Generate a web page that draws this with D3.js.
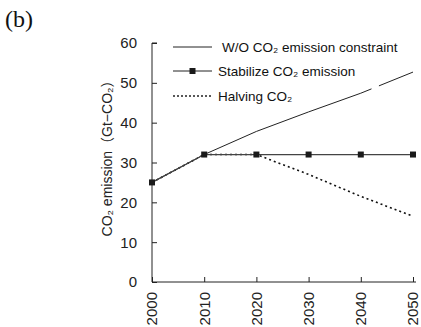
<!DOCTYPE html>
<html><head><meta charset="utf-8">
<script src="https://cdn.jsdelivr.net/npm/d3@7/dist/d3.min.js"></script>
<style>body{margin:0;background:#fff}</style>
</head><body>
<svg id="c" width="421" height="327"></svg>
<script>
const years = [2000, 2010, 2020, 2030, 2040, 2050];
const woConstraint = [25, 32, 37.8, 42.7, 47.4, 52.7];
const stabilize = [25, 32, 32, 32, 32, 32];
const halving = [25, 32, 32, 27, 21.5, 16.5];
const yTicks = [0, 10, 20, 30, 40, 50, 60];
const legendLabels = ["W/O CO\u2082 emission constraint", "Stabilize CO\u2082 emission", "Halving CO\u2082"];

const svg = d3.select("#c");
const font = "'Liberation Sans', Arial, 'Noto Sans CJK JP', sans-serif";
const x = d3.scaleLinear().domain([2000, 2050]).range([152, 413]);
const y = d3.scaleLinear().domain([0, 60]).range([282, 43]);
const ink = "#222";

// title
svg.append("text").attr("x", 5).attr("y", 27).text("(b)")
  .attr("font-family", "'Liberation Serif', 'DejaVu Serif', serif").attr("font-size", 24).attr("fill", "#111");

// y axis
const ya = svg.append("g").attr("transform", `translate(${x(2000)},0)`)
  .call(d3.axisRight(y).tickValues(yTicks).tickSize(5).tickFormat(""));
ya.select(".domain").attr("d", `M5,${y(60)}H0V${y(0)}`).attr("stroke", ink);
ya.selectAll(".tick line").attr("stroke", ink);
svg.append("g").selectAll("text").data(yTicks).join("text")
  .attr("x", 137).attr("y", d => y(d)).attr("dy", "0.36em")
  .attr("text-anchor", "end").attr("font-family", font).attr("font-size", 15).attr("fill", "#222")
  .text(d => d);

// x axis
const xa = svg.append("g").attr("transform", `translate(0,${y(0)})`)
  .call(d3.axisTop(x).tickValues(years).tickSize(5).tickFormat(""));
xa.select(".domain").attr("d", `M${x(2000)},0H${x(2050)+3}`).attr("stroke", ink);
xa.selectAll(".tick line").attr("stroke", ink);
svg.append("g").selectAll("text").data(years).join("text")
  .attr("transform", d => `translate(${x(d)},292) rotate(-90)`)
  .attr("dy", "0.36em").attr("text-anchor", "end")
  .attr("font-family", font).attr("font-size", 15).attr("fill", "#222")
  .text(d => d);

// y label
svg.append("text").attr("transform", `translate(107,155) rotate(-90)`)
  .attr("text-anchor", "middle").attr("dy", "0.36em")
  .attr("font-family", font).attr("font-size", 14).attr("fill", "#222")
  .text("CO\u2082 emission\uFF08Gt\u2212CO\u2082\uFF09");

const line = d3.line().x((d, i) => x(years[i])).y(d => y(d));

// halving (dotted)
svg.append("path").datum(halving).attr("d", line).attr("fill", "none")
  .attr("stroke", "#111").attr("stroke-width", 1.6).attr("stroke-dasharray", "2,3");
// W/O
svg.append("path").datum(woConstraint).attr("d", line).attr("fill", "none")
  .attr("stroke", ink).attr("stroke-width", 1).attr("stroke-dasharray", "239,8,300");
// stabilize
svg.append("path").datum(stabilize).attr("d", line).attr("fill", "none")
  .attr("stroke", "#444").attr("stroke-width", 1.3);
svg.append("g").selectAll("rect").data(stabilize).join("rect")
  .attr("x", (d, i) => x(years[i]) - 3).attr("y", d => y(d) - 3)
  .attr("width", 6).attr("height", 6).attr("fill", "#1a1a1a");

// legend
const rows = [47, 71, 96];
const lg = svg.append("g");
rows.forEach((ry, i) => {
  const l = lg.append("line").attr("x1", 173).attr("x2", 212).attr("y1", ry).attr("y2", ry)
    .attr("stroke", ink).attr("stroke-width", i === 2 ? 1.6 : 1);
  if (i === 2) l.attr("stroke-dasharray", "2,2");
  if (i === 1) lg.append("rect").attr("x", 189.5).attr("y", ry - 3).attr("width", 6).attr("height", 6).attr("fill", "#1a1a1a");
  lg.append("text").attr("x", i === 0 ? 222 : 218).attr("y", ry).attr("dy", "0.36em")
    .attr("font-family", font).attr("font-size", 13.5).attr("fill", "#111")
    .text(legendLabels[i]);
});
</script>
</body></html>
